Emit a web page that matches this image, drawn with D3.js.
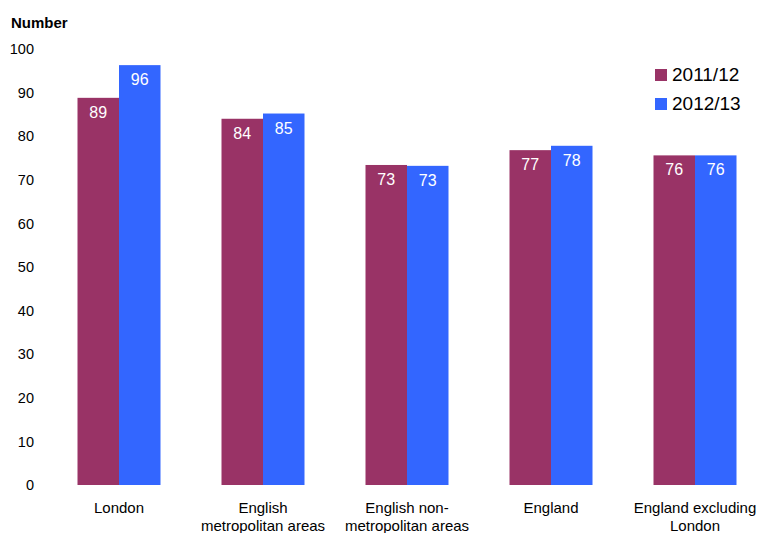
<!DOCTYPE html>
<html>
<head>
<meta charset="utf-8">
<script src="https://cdn.jsdelivr.net/npm/d3@7"></script>
<style>
body { margin: 0; background: #fff; }
svg { display: block; font-family: "Liberation Sans", Arial, sans-serif; }
</style>
</head>
<body>
<svg id="chart" width="757" height="533"></svg>
<script>
const categories = [
  ["London"],
  ["English", "metropolitan areas"],
  ["English non-", "metropolitan areas"],
  ["England"],
  ["England excluding", "London"]
];
const seriesNames = ["2011/12", "2012/13"];
const values2011 = [88.8, 84.0, 73.4, 76.8, 75.6];
const values2012 = [96.3, 85.2, 73.2, 77.8, 75.6];
const yTicks = [0, 10, 20, 30, 40, 50, 60, 70, 80, 90, 100];
const colors = ["#993366", "#3366FF"];

const svg = d3.select("#chart");
const catKeys = categories.map(c => c.join(" "));
const x0 = d3.scaleBand().domain(catKeys).range([47, 767]).paddingInner(0.4236).paddingOuter(0.2118);
const x1 = d3.scaleBand().domain(seriesNames).range([0, x0.bandwidth()]);
const y = d3.scaleLinear().domain([0, 100]).range([485, 49]);

// y axis labels
const yAxis = d3.axisLeft(y).tickValues(yTicks).tickSize(0).tickPadding(0);
const yg = svg.append("g").attr("transform", "translate(34,0)").call(yAxis);
yg.select(".domain").remove();
yg.selectAll("text").attr("font-size", 14.5).attr("fill", "#000").attr("font-family", "Liberation Sans, Arial, sans-serif");

// title
svg.append("text").attr("x", 11).attr("y", 28).attr("font-size", 15).attr("font-weight", "bold").text("Number");

const series = [values2011, values2012];
const g = svg.append("g");
catKeys.forEach((k, i) => {
  seriesNames.forEach((s, j) => {
    const v = series[j][i];
    const bx = x0(k) + x1(s);
    g.append("rect").attr("x", bx).attr("y", y(v)).attr("width", x1.bandwidth()).attr("height", y(0) - y(v)).attr("fill", colors[j]);
    g.append("text").attr("x", bx + x1.bandwidth() / 2).attr("y", y(v) + 20)
      .attr("text-anchor", "middle").attr("font-size", 16).attr("fill", "#fff").text(Math.round(v));
  });
});

// x axis labels
const xAxis = d3.axisBottom(x0).tickSize(0).tickFormat(() => "");
const xg = svg.append("g").attr("transform", `translate(0,${y(0)})`).call(xAxis);
xg.select(".domain").remove();
xg.selectAll(".tick").each(function(d, i) {
  const t = d3.select(this).append("text").attr("text-anchor", "middle").attr("font-size", 15).attr("fill", "#000");
  categories[i].forEach((line, li) => {
    t.append("tspan").attr("x", 0).attr("y", 28 + li * 18).text(line);
  });
});

// legend
const leg = svg.append("g");
seriesNames.forEach((s, j) => {
  leg.append("rect").attr("x", 655).attr("y", 69 + j * 29).attr("width", 12).attr("height", 12).attr("fill", colors[j]);
  leg.append("text").attr("x", 672).attr("y", 81 + j * 29).attr("font-size", 19).attr("fill", "#000").text(s);
});
</script>
</body>
</html>
